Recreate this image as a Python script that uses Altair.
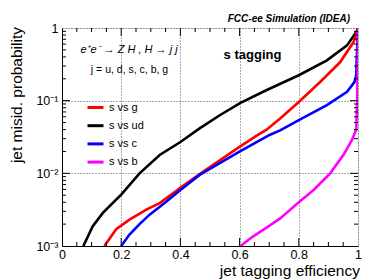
import altair as alt
import pandas as pd

# ---- data ----
series_names = ["s vs ud", "s vs g", "s vs c", "s vs b"]
series_colors = ["#000000", "#ff0000", "#0000ff", "#ff00ff"]
legend_order = ["s vs g", "s vs ud", "s vs c", "s vs b"]

ud_x = [0.072, 0.104, 0.138, 0.2, 0.262, 0.33, 0.4, 0.465, 0.533, 0.603, 0.69, 0.8, 0.895, 0.963, 0.997, 1.0]
ud_y = [1e-3, 1.87e-3, 2.85e-3, 5.1e-3, 1e-2, 0.0179, 0.027, 0.0415, 0.063, 0.093, 0.139, 0.224, 0.359, 0.576, 0.92, 1.0]

g_x = [0.143, 0.183, 0.228, 0.285, 0.33, 0.4, 0.465, 0.601, 0.663, 0.69, 0.737, 0.8, 0.872, 0.94, 0.985, 1.0]
g_y = [1e-3, 1.7e-3, 2.3e-3, 3.16e-3, 3.9e-3, 6.3e-3, 0.0098, 0.0233, 0.034, 0.0395, 0.057, 0.096, 0.181, 0.34, 0.64, 1.0]

c_x = [0.2, 0.228, 0.262, 0.296, 0.353, 0.4, 0.465, 0.601, 0.703, 0.737, 0.8, 0.895, 0.963, 0.988, 0.994, 0.996, 1.0]
c_y = [1e-3, 1.44e-3, 2.0e-3, 2.7e-3, 4.1e-3, 5.9e-3, 0.0095, 0.02, 0.034, 0.039, 0.054, 0.087, 0.132, 0.18, 0.224, 0.4, 1.0]

b_x = [0.603, 0.646, 0.69, 0.737, 0.8, 0.85, 0.906, 0.951, 0.98, 0.994, 0.997, 0.999, 1.0]
b_y = [1e-3, 1.36e-3, 1.78e-3, 2.4e-3, 4e-3, 5.9e-3, 1e-2, 0.018, 0.029, 0.04, 0.092, 0.3, 1.0]

x_major = [0.2, 0.4, 0.6, 0.8]
x_minor = [0.05, 0.1, 0.15, 0.25, 0.3, 0.35, 0.45, 0.5, 0.55, 0.65, 0.7, 0.75, 0.85, 0.9, 0.95]
y_major = [0.01, 0.1]
y_minor = [0.002, 0.003, 0.004, 0.005, 0.006, 0.007, 0.008, 0.009,
           0.02, 0.03, 0.04, 0.05, 0.06, 0.07, 0.08, 0.09,
           0.2, 0.3, 0.4, 0.5, 0.6, 0.7, 0.8, 0.9]
y_label_values = [0.001, 0.01, 0.1, 1]

rows = []
for name, xs, ys in [("s vs ud", ud_x, ud_y), ("s vs g", g_x, g_y), ("s vs c", c_x, c_y), ("s vs b", b_x, b_y)]:
    for i, (a, b) in enumerate(zip(xs, ys)):
        rows.append({"series": name, "eff": a, "mis": b, "i": i})
df = pd.DataFrame(rows)

W, H = 296, 218
FONT = "Liberation Sans"

xscale = alt.Scale(domain=[0, 1], nice=False, zero=False)
yscale = alt.Scale(type="log", domain=[0.001, 1], nice=False)

lines = alt.Chart(df).mark_line(strokeWidth=2.6, clip=True).encode(
    x=alt.X("eff:Q", scale=xscale,
            axis=alt.Axis(values=[0, 0.2, 0.4, 0.6, 0.8, 1], format="~g", ticks=False,
                          labelPadding=2, labelFontSize=12.5, title=None,
                          grid=True, gridDash=[1, 2], gridColor="#555", gridWidth=1,
                          domain=True, domainColor="black", labelColor="black",
                          labelFont=FONT, labelFlush=False)),
    y=alt.Y("mis:Q", scale=yscale,
            axis=alt.Axis(values=y_label_values, ticks=False, labelPadding=4,
                          labelFontSize=12.5, title=None, grid=True, gridDash=[1, 2],
                          gridColor="#555", gridWidth=1, domainColor="black",
                          labelColor="black", labelFont=FONT,
                          labelExpr="datum.value == 1 ? '1' : datum.value == 0.1 ? '10⁻¹' : datum.value == 0.01 ? '10⁻²' : '10⁻³'")),
    color=alt.Color("series:N",
                    scale=alt.Scale(domain=series_names, range=series_colors),
                    sort=legend_order,
                    legend=alt.Legend(title=None, orient="none", legendX=24, legendY=70,
                                      symbolType="stroke", symbolSize=256, symbolStrokeWidth=3,
                                      labelFontSize=11, labelFont=FONT, rowPadding=2.2,
                                      labelOffset=4, padding=0, values=legend_order)),
    order="i:Q",
)


def xticks(vals, length, top):
    d = pd.DataFrame({"v": vals})
    if top:
        return alt.Chart(d).mark_rule(color="black", strokeWidth=1).encode(
            x=alt.X("v:Q", scale=xscale), y=alt.value(0), y2=alt.value(length))
    return alt.Chart(d).mark_rule(color="black", strokeWidth=1).encode(
        x=alt.X("v:Q", scale=xscale), y=alt.value(H), y2=alt.value(H - length))


def yticks(vals, length, right):
    d = pd.DataFrame({"v": vals})
    if right:
        return alt.Chart(d).mark_rule(color="black", strokeWidth=1).encode(
            y=alt.Y("v:Q", scale=yscale), x=alt.value(W), x2=alt.value(W - length))
    return alt.Chart(d).mark_rule(color="black", strokeWidth=1).encode(
        y=alt.Y("v:Q", scale=yscale), x=alt.value(0), x2=alt.value(length))


ticks = [xticks(x_major, 8, False), xticks(x_minor, 4, False),
         xticks(x_major, 8, True), xticks(x_minor, 4, True),
         yticks(y_major, 8, False), yticks(y_minor, 4, False),
         yticks(y_major, 8, True), yticks(y_minor, 4, True)]


def label(text, x, y, size, align="center", weight="normal", style="normal", angle=0, baseline="middle"):
    return alt.Chart(pd.DataFrame({"t": [text]})).mark_text(
        align=align, baseline=baseline, fontSize=size, fontWeight=weight, fontStyle=style,
        font=FONT, color="black", angle=angle
    ).encode(x=alt.value(x), y=alt.value(y), text="t:N")


texts = [
    label("FCC-ee Simulation (IDEA)", 288, -9, 10, align="right", weight="bold", style="italic"),
    label("e⁺e⁻ → Z H , H → j j", 67, 22, 11, style="italic"),
    label("j = u, d, s, c, b, g", 67.5, 42, 10.5),
    label("s tagging", 190.5, 27, 13, weight="bold"),
    label("jet tagging efficiency", 298, 243, 15.5, align="right"),
    label("jet misid. probability", -45, -1, 15.5, align="right", angle=270),
]

chart = alt.layer(lines, *ticks, *texts).properties(
    width=W, height=H,
    autosize=alt.AutoSizeParams(type="none"),
    padding={"left": 54, "top": 20, "right": 24, "bottom": 34},
).configure_view(stroke="black", strokeWidth=1).configure(background="white")

chart.save("out.html", embed_options={"renderer": "svg", "actions": False})
